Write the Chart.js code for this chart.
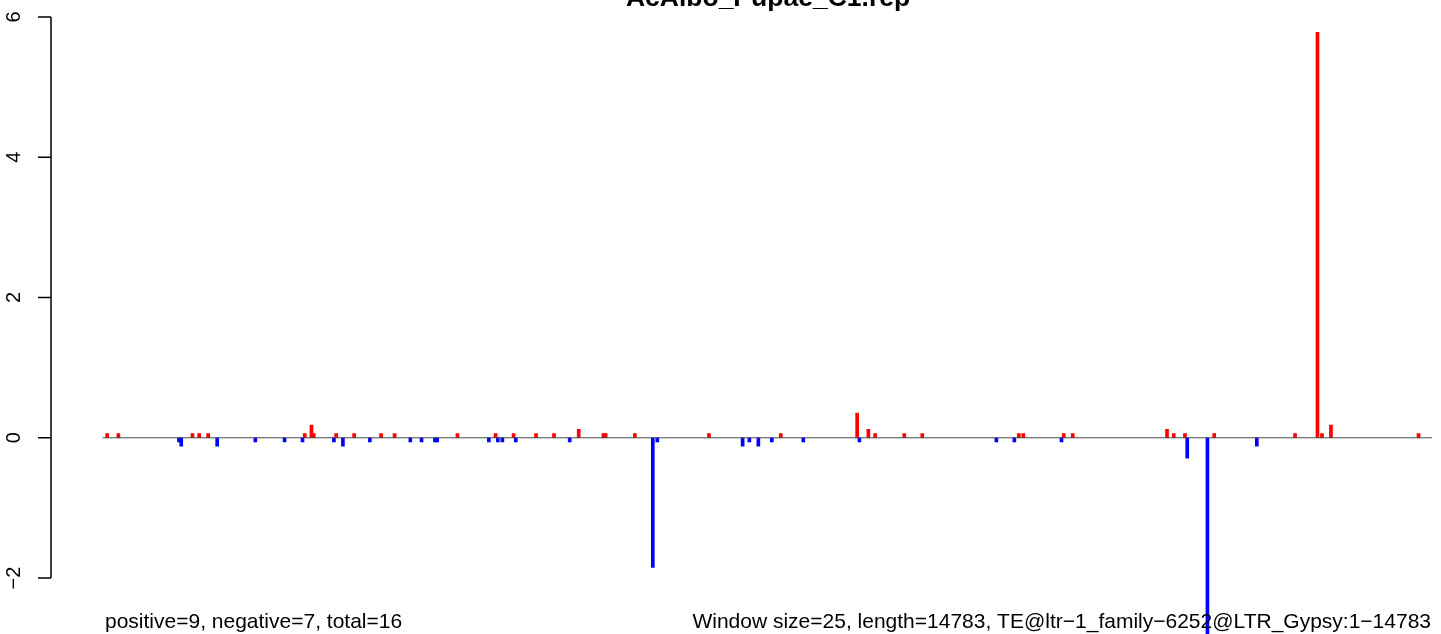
<!DOCTYPE html>
<html>
<head>
<meta charset="utf-8">
<script src="https://cdn.jsdelivr.net/npm/chart.js@4/dist/chart.umd.min.js"></script>
<style>
html,body{margin:0;padding:0;background:#fff;}
canvas{display:block;}
</style>
</head>
<body>
<canvas id="c" width="1441" height="634"></canvas>
<script>
const titleText = "AcAlbo_Pupae_C1.rep";
const leftNote = "positive=9, negative=7, total=16";
const rightNote = "Window size=25, length=14783, TE@ltr\u22121_family\u22126252@LTR_Gypsy:1\u221214783";

const redWindows = [2,7,40,43,47,90,93,94,104,112,124,130,158,175,183,193,201,212,223,224,237,270,302,336,341,344,357,365,408,410,428,432,474,477,482,495,531,541,543,547,586];
const redValues  = [0.06,0.06,0.06,0.06,0.06,0.06,0.18,0.06,0.06,0.06,0.06,0.06,0.06,0.06,0.06,0.06,0.06,0.12,0.06,0.06,0.06,0.06,0.06,0.35,0.12,0.06,0.06,0.06,0.06,0.06,0.06,0.06,0.12,0.06,0.06,0.06,0.06,5.78,0.06,0.18,0.06];

const blueWindows = [34,35,51,68,81,89,103,107,119,137,142,148,149,172,176,178,184,208,245,247,285,288,292,298,312,337,398,406,427,483,492,514];
const blueValues  = [-0.06,-0.12,-0.12,-0.06,-0.06,-0.06,-0.06,-0.12,-0.06,-0.06,-0.06,-0.06,-0.06,-0.06,-0.06,-0.06,-0.06,-0.06,-1.85,-0.06,-0.12,-0.06,-0.12,-0.06,-0.06,-0.06,-0.06,-0.06,-0.06,-0.29,-2.9,-0.12];

const tickValues = [-2,0,2,4,6];
const tickLabels = ["\u22122","0","2","4","6"];
const nWindows = 592;

const FONT = '"Liberation Sans", Arial, sans-serif';

const decor = {
  id: 'decor',
  afterDatasetsDraw(chart) {
    const ctx = chart.ctx;
    const xs = chart.scales.x, ys = chart.scales.y;
    ctx.save();
    // zero line
    const y0 = ys.getPixelForValue(0);
    ctx.strokeStyle = '#4d4d4d';
    ctx.lineWidth = 1.2;
    ctx.beginPath();
    ctx.moveTo(xs.getPixelForValue(0), y0);
    ctx.lineTo(xs.getPixelForValue(nWindows), y0);
    ctx.stroke();
    // y axis
    const ax = chart.chartArea.left;
    ctx.strokeStyle = '#000';
    ctx.lineWidth = 1.5;
    ctx.beginPath();
    ctx.moveTo(ax, ys.getPixelForValue(tickValues[0]));
    ctx.lineTo(ax, ys.getPixelForValue(tickValues[tickValues.length-1]));
    tickValues.forEach(v => {
      const py = ys.getPixelForValue(v);
      ctx.moveTo(ax, py);
      ctx.lineTo(ax - 13, py);
    });
    ctx.stroke();
    ctx.fillStyle = '#000';
    ctx.font = '20px ' + FONT;
    ctx.textAlign = 'center';
    ctx.textBaseline = 'alphabetic';
    tickValues.forEach((v, i) => {
      const py = ys.getPixelForValue(v);
      ctx.save();
      ctx.translate(20, py);
      ctx.rotate(-Math.PI/2);
      ctx.fillText(tickLabels[i], 0, 0);
      ctx.restore();
    });
    // title
    ctx.font = 'bold 26.5px ' + FONT;
    ctx.textAlign = 'center';
    ctx.fillText(titleText, 768, 6);
    // notes
    ctx.font = '21px ' + FONT;
    ctx.textAlign = 'left';
    ctx.fillText(leftNote, 105, 628);
    ctx.textAlign = 'right';
    ctx.fillText(rightNote, 1431, 628);
    ctx.restore();
  }
};

new Chart(document.getElementById('c'), {
  type: 'bar',
  data: {
    datasets: [
      {
        label: 'positive',
        data: redWindows.map((w, i) => ({x: w, y: redValues[i]})),
        backgroundColor: '#ff0000',
        borderWidth: 0,
        barThickness: 3,
        grouped: false,
        clip: false
      },
      {
        label: 'negative',
        data: blueWindows.map((w, i) => ({x: w, y: blueValues[i]})),
        backgroundColor: '#0000ff',
        borderWidth: 0,
        barThickness: 3,
        grouped: false,
        clip: false
      }
    ]
  },
  options: {
    responsive: false,
    animation: false,
    events: [],
    layout: { padding: { left: 51, right: 9, top: 17, bottom: 56 } },
    plugins: { legend: { display: false }, tooltip: { enabled: false }, title: { display: false } },
    scales: {
      x: { type: 'linear', offset: false, min: -23, max: nWindows, display: false, grid: { display: false } },
      y: { type: 'linear', min: -2, max: 6, display: false, grid: { display: false } }
    }
  },
  plugins: [decor]
});
</script>
</body>
</html>
